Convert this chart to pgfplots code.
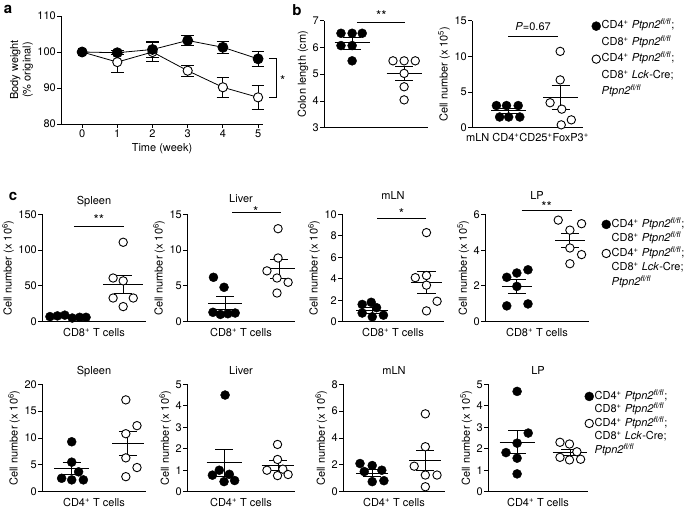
\documentclass[border=0pt]{standalone}
\usepackage{fontspec}
\setmainfont{TeX Gyre Heros}
\usepackage{pgfplots}
\pgfplotsset{compat=1.18}
\newcommand\tfont{\fontsize{11}{12.5}\selectfont}
\newcommand\ptpn{\textit{Ptpn2}\textsuperscript{\textit{fl/fl}}}
\newcommand\spr[1]{\textsuperscript{#1}}
\tikzset{sigstar/.style={anchor=base, font=\fontsize{13.5}{13.5}\selectfont, inner sep=0pt}}
\pgfplotsset{
  base/.style={scale only axis, axis x line*=bottom, axis y line*=left,
    axis line style={line width=0.8pt}, tick align=outside, major tick length=4pt,
    tick style={line width=0.8pt, black}, ticklabel style={font=\tfont, inner sep=1pt},
    label style={font=\tfont}, clip=false, /pgf/number format/assume math mode=true,
    every axis title/.style={at={(0.5,1)}, anchor=south, yshift=4pt, font=\tfont, text depth=2.3pt}},
  dot/.style={base, xtick=\empty, xlabel style={at={(axis description cs:0.5,0)}, anchor=north, yshift=-3pt}},
  fdot/.style={only marks, mark=*, mark size=4.5pt, black, forget plot},
  odot/.style={only marks, mark=*, mark size=4.2pt, mark options={fill=white, draw=black, line width=0.9pt}, forget plot},
  ms/.style={black, line width=1pt, forget plot},
  eb/.style={black, line width=0.8pt, forget plot},
  leg/.style={legend cell align=left, legend style={draw=none, fill=none, font=\tfont, inner sep=0pt,
     nodes={inner sep=1pt, text height=8pt, text depth=2.5pt}, at={(1,1)}, anchor=north west}},
}
\newcommand{\MS}[5]{%
  \pgfmathsetmacro\msL{#1-#2}\pgfmathsetmacro\msR{#1+#2}%
  \pgfmathsetmacro\msCL{#1-0.17}\pgfmathsetmacro\msCR{#1+0.17}%
  \edef\mstemp{%
   \noexpand\addplot[ms] coordinates {(\msL,#3) (\msR,#3)};
   \noexpand\addplot[ms] coordinates {(#1,#4) (#1,#5)};
   \noexpand\addplot[ms] coordinates {(\msCL,#4) (\msCR,#4)};
   \noexpand\addplot[ms] coordinates {(\msCL,#5) (\msCR,#5)};
  }\mstemp}
\newcommand{\EB}[3]{%
  \pgfmathsetmacro\ebL{#1-0.18}\pgfmathsetmacro\ebR{#1+0.18}%
  \pgfmathsetmacro\ebLo{#2-#3}\pgfmathsetmacro\ebHi{#2+#3}%
  \edef\ebtemp{%
   \noexpand\addplot[eb] coordinates {(#1,\ebLo) (#1,\ebHi)};
   \noexpand\addplot[eb] coordinates {(\ebL,\ebLo) (\ebR,\ebLo)};
   \noexpand\addplot[eb] coordinates {(\ebL,\ebHi) (\ebR,\ebHi)};
  }\ebtemp}
\newcommand\mylegend{%
  \addlegendimage{only marks, mark=*, mark size=4.5pt, black}
  \addlegendentry{CD4\spr{+} \ptpn;}
  \addlegendimage{empty legend}
  \addlegendentry{CD8\spr{+} \ptpn}
  \addlegendimage{only marks, mark=*, mark size=4.2pt, mark options={fill=white, draw=black, line width=0.9pt}}
  \addlegendentry{CD4\spr{+} \ptpn;}
  \addlegendimage{empty legend}
  \addlegendentry{CD8\spr{+} \textit{Lck}-Cre;}
  \addlegendimage{empty legend}
  \addlegendentry{\ptpn}}
\begin{document}
\begin{tikzpicture}[x=1pt, y=1pt]
\useasboundingbox (0pt,0pt) rectangle (685pt,509pt);
\node[font=\fontsize{15}{15}\bfseries] at (8pt,500pt) {a};
\node[font=\fontsize{15}{15}\bfseries] at (297pt,499pt) {b};
\node[font=\fontsize{15}{15}\bfseries] at (13pt,313pt) {c};

% ---------- panel a ----------
\begin{axis}[base, at={(61pt,385pt)}, anchor=south west, width=202pt, height=108pt,
  xmin=-0.6, xmax=5.14, ymin=80, ymax=110, xtick={0,1,2,3,4,5}, ytick={80,90,100,110},
  xlabel={Time (week)}, ylabel={Body weight\\(\% original)}, ylabel style={align=center},
  xticklabel style={inner sep=2pt}]
\EB{1}{97.2}{2.8}\EB{2}{100.0}{2.6}\EB{3}{94.8}{1.6}\EB{4}{90.2}{2.8}\EB{5}{87.4}{3.4}
\addplot[black, line width=0.8pt, mark=*, mark size=4.6pt, mark options={fill=white, line width=0.9pt}]
  coordinates {(0,100) (1,97.2) (2,100.0) (3,94.8) (4,90.2) (5,87.4)};
\EB{1}{99.8}{0.6}\EB{2}{100.7}{2.3}\EB{3}{103.2}{1.4}\EB{4}{101.3}{1.6}\EB{5}{98.1}{2.0}
\addplot[black, line width=0.8pt, mark=*, mark size=5pt]
  coordinates {(0,100) (1,99.8) (2,100.7) (3,103.2) (4,101.3) (5,98.1)};
\addplot[eb] coordinates {(5.31,98.1) (5.51,98.1) (5.51,87.4) (5.31,87.4)};
\node[font=\fontsize{13.5}{13.5}\selectfont] at (axis cs:5.7,92.0) {*};
\end{axis}

% ---------- panel b left ----------
\begin{axis}[dot, at={(324pt,381.3pt)}, anchor=south west, width=104pt, height=107pt,
  xmin=0.47, xmax=2.43, ymin=3, ymax=7, ytick={3,4,5,6,7}, ylabel={Colon length (cm)}]
\addplot[fdot] coordinates {(0.79,6.53) (1.0,6.53) (1.19,6.53) (0.79,6.07) (1.0,6.07) (1.0,5.5)};
\addplot[odot] coordinates {(1.77,5.5) (1.98,5.5) (2.19,5.5) (1.98,5.03) (1.98,4.53) (1.98,4.04)};
\MS{1.0}{0.33}{6.19}{5.94}{6.36}
\MS{1.98}{0.33}{5.02}{4.76}{5.28}
\addplot[ms] coordinates {(1.09,6.93) (2.0,6.93)};
\node[sigstar, yshift=2pt] at (axis cs:1.55,6.93) {**};
\end{axis}

% ---------- panel b right ----------
\begin{axis}[dot, leg, at={(472pt,381.3pt)}, anchor=south west, width=111pt, height=107pt,
  xmin=0.34, xmax=2.43, ymin=0, ymax=15, ytick={0,5,10,15},
  ylabel={Cell number (x 10\spr{5})},
  xlabel={mLN CD4\spr{+}CD25\spr{+}FoxP3\spr{+}}, xlabel style={xshift=0pt, yshift=1pt},
  legend style={xshift=4.5pt, yshift=1pt, row sep=4pt}]
\addplot[fdot] coordinates {(0.8,3.1) (0.99,3.1) (1.21,3.1) (0.86,1.5) (1.03,1.5) (1.24,1.5)};
\addplot[odot] coordinates {(2.0,10.7) (2.0,6.7) (1.81,3.5) (2.03,2.6) (2.21,1.1) (2.02,0.4)};
\MS{1.03}{0.33}{2.38}{2.0}{2.76}
\MS{2.01}{0.33}{4.2}{2.6}{5.85}
\addplot[ms] coordinates {(1.02,12.85) (1.96,12.85)};
\node[anchor=base, yshift=6pt, font=\tfont, inner sep=0pt] at (axis cs:1.49,12.85) {\textit{P}=0.67};
\mylegend
\end{axis}

% ---------- panel c top ----------
\begin{axis}[dot, at={(42pt,187.4pt)}, anchor=south west, width=104pt, height=107.2pt,
  xmin=0.53, xmax=2.49, ymin=0, ymax=150, ytick={0,50,100,150}, title={Spleen},
  ylabel={Cell number (x 10\spr{6})}, xlabel={CD8\spr{+} T cells}]
\addplot[fdot] coordinates {(0.68,7) (0.82,8) (0.96,9) (1.1,5) (1.24,6) (1.36,6)};
\addplot[odot] coordinates {(2.06,111) (1.87,61) (2.06,57) (1.87,33) (2.25,33) (2.06,21)};
\MS{1.02}{0.4}{6.8}{6.2}{7.4}
\MS{2.06}{0.38}{52}{39}{65}
\addplot[ms] coordinates {(1.13,133) (2.08,133)};
\node[sigstar, yshift=2.5pt] at (axis cs:1.6,133) {**};
\end{axis}

\begin{axis}[dot, at={(187pt,187.4pt)}, anchor=south west, width=108pt, height=107.2pt,
  xmin=0.30, xmax=2.34, ymin=0, ymax=15, ytick={0,5,10,15}, title={Liver},
  title style={yshift=2pt},
  ylabel={Cell number (x 10\spr{6})}, xlabel={CD8\spr{+} T cells}]
\addplot[fdot] coordinates {(0.8,6.2) (1.0,4.8) (0.79,1.3) (0.93,1.0) (1.07,1.1) (1.21,1.2)};
\addplot[odot] coordinates {(2.02,13.0) (2.02,8.9) (1.81,7.1) (2.0,6.1) (2.21,5.5) (2.0,4.0)};
\MS{1.02}{0.32}{2.6}{1.75}{3.45}
\MS{2.04}{0.3}{7.4}{6.05}{8.75}
\addplot[ms] coordinates {(1.15,15.3) (2.07,15.3)};
\node[sigstar, yshift=-4pt] at (axis cs:1.6,15.3) {*};
\end{axis}

\begin{axis}[dot, at={(342pt,187.4pt)}, anchor=south west, width=102pt, height=107.2pt,
  xmin=0.43, xmax=2.35, ymin=0, ymax=10, ytick={0,2,4,6,8,10}, title={mLN},
  title style={yshift=5pt},
  ylabel={Cell number (x 10\spr{6})}, xlabel={CD8\spr{+} T cells}]
\addplot[fdot] coordinates {(0.81,1.6) (0.98,1.8) (1.08,1.3) (0.81,0.8) (1.0,0.45) (1.21,0.6)};
\addplot[odot] coordinates {(2.02,8.3) (2.02,4.3) (1.81,4.1) (2.02,3.4) (2.22,1.9) (2.02,1.0)};
\MS{1.0}{0.3}{1.05}{0.8}{1.3}
\MS{2.02}{0.3}{3.65}{2.6}{4.7}
\addplot[ms] coordinates {(1.09,9.6) (2.02,9.6)};
\node[sigstar, yshift=0.5pt] at (axis cs:1.55,9.6) {*};
\end{axis}

\begin{axis}[dot, leg, at={(485pt,187.4pt)}, anchor=south west, width=104pt, height=107.2pt,
  xmin=0.40, xmax=2.36, ymin=0, ymax=6, ytick={0,2,4,6}, title={LP},
  title style={yshift=5pt},
  ylabel={Cell number (x 10\spr{5})}, xlabel={CD8\spr{+} T cells},
  legend style={xshift=8.5pt, yshift=-3.6pt, row sep=2pt}]
\addplot[fdot] coordinates {(0.81,2.48) (1.0,2.72) (1.21,2.9) (1.0,1.97) (0.81,0.88) (1.21,0.99)};
\addplot[odot] coordinates {(1.78,5.68) (2.22,5.48) (2.0,5.12) (2.0,4.12) (2.22,3.75) (2.0,3.24)};
\MS{1.0}{0.28}{1.97}{1.6}{2.34}
\MS{2.0}{0.28}{4.56}{4.16}{4.93}
\addplot[ms] coordinates {(1.09,6.2) (2.04,6.2)};
\node[sigstar, yshift=-1pt] at (axis cs:1.56,6.2) {**};
\mylegend
\end{axis}

% ---------- panel c bottom ----------
\begin{axis}[dot, at={(42pt,17.3pt)}, anchor=south west, width=104pt, height=107.4pt,
  xmin=0.44, xmax=2.40, ymin=0, ymax=20, ytick={0,5,10,15,20}, title={Spleen},
  ylabel={Cell number (x 10\spr{6})}, xlabel={CD4\spr{+} T cells}]
\addplot[fdot] coordinates {(1.0,9.3) (1.0,5.5) (1.13,3.7) (0.81,2.5) (1.0,2.2) (1.22,2.2)};
\addplot[odot] coordinates {(2.02,17.1) (2.23,12.3) (2.02,10.8) (2.02,6.3) (2.23,4.5) (2.02,2.8)};
\MS{1.0}{0.33}{4.23}{3.2}{5.4}
\MS{2.06}{0.3}{9.0}{6.8}{11.2}
\end{axis}

\begin{axis}[dot, at={(187pt,17.3pt)}, anchor=south west, width=108pt, height=107.4pt,
  xmin=0.30, xmax=2.34, ymin=0, ymax=5, ytick={0,1,2,3,4,5}, title={Liver},
  ylabel={Cell number (x 10\spr{6})}, xlabel={CD4\spr{+} T cells}]
\addplot[fdot] coordinates {(1.02,4.5) (0.91,1.0) (0.78,0.77) (1.1,0.81) (1.0,0.47) (1.2,0.52)};
\addplot[odot] coordinates {(2.01,2.2) (2.01,1.5) (1.81,1.0) (2.11,1.05) (2.21,0.8) (2.01,0.75)};
\MS{1.0}{0.33}{1.34}{0.7}{1.98}
\MS{2.02}{0.31}{1.2}{0.97}{1.43}
\end{axis}

\begin{axis}[dot, at={(343pt,17.3pt)}, anchor=south west, width=102pt, height=107.4pt,
  xmin=0.45, xmax=2.37, ymin=0, ymax=8, ytick={0,2,4,6,8}, title={mLN},
  ylabel={Cell number (x 10\spr{6})}, xlabel={CD4\spr{+} T cells}]
\addplot[fdot] coordinates {(0.77,2.1) (1.0,1.95) (1.18,1.6) (0.85,1.5) (1.0,0.75) (1.22,0.82)};
\addplot[odot] coordinates {(2.0,5.8) (2.0,3.35) (1.79,1.9) (2.0,1.24) (2.22,1.24) (2.0,0.37)};
\MS{1.0}{0.3}{1.37}{1.12}{1.63}
\MS{2.0}{0.3}{2.36}{1.6}{3.1}
\end{axis}

\begin{axis}[dot, leg, at={(488pt,17.3pt)}, anchor=south west, width=100pt, height=107.4pt,
  xmin=0.45, xmax=2.34, ymin=0, ymax=5, ytick={0,1,2,3,4,5}, title={LP},
  ylabel={Cell number (x 10\spr{5})}, xlabel={CD4\spr{+} T cells},
  legend style={xshift=-7.5pt, yshift=-5.7pt, row sep=1pt}]
\addplot[fdot] coordinates {(1.0,4.67) (1.21,2.73) (1.0,2.26) (0.79,1.82) (1.0,1.56) (1.0,0.83)};
\addplot[odot] coordinates {(1.81,2.3) (1.99,2.22) (2.13,1.86) (1.81,1.6) (1.99,1.48) (2.2,1.51)};
\MS{1.0}{0.33}{2.31}{1.76}{2.85}
\MS{2.0}{0.33}{1.83}{1.7}{1.96}
\mylegend
\end{axis}
\end{tikzpicture}
\end{document}
